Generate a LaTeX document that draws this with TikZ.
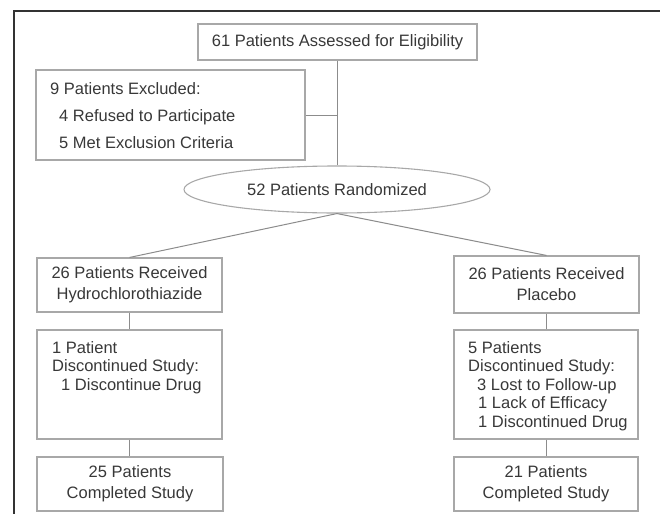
\documentclass[tikz,border=0pt]{standalone}
\usepackage{fontspec}
\setmainfont{Liberation Sans}
\usetikzlibrary{shapes.geometric}
\definecolor{boxline}{HTML}{A8A8A8}
\definecolor{conn}{HTML}{8C8C8C}
\definecolor{txt}{HTML}{383838}
\begin{document}
\begin{tikzpicture}[x=1pt,y=-1pt,
  font=\fontsize{16.5}{21}\selectfont,
  box/.style={draw=boxline, line width=1.1pt, inner sep=0pt, text=txt, align=center},
  lbl/.style={anchor=base west, inner sep=0pt, text=txt},
  wire/.style={draw=conn, line width=1pt},
  frame/.style={draw=black!80, line width=1.2pt}]
\useasboundingbox (0,0) rectangle (660,514);
\coordinate (ftop) at (660,11);
\coordinate (fcorner) at (14,11);
\coordinate (fbot) at (14,514);
\draw[frame] (ftop) -- (fcorner) -- (fbot);

% top box
\node[box, minimum width=279, minimum height=36] (assess) at (337.5,42) {61 Patients Assessed for Eligibility};

% excluded box
\node[box, minimum width=269, minimum height=90] (excl) at (170.5,115) {};
\node[lbl] (ex1) at (50,94) {9 Patients Excluded:};
\node[lbl] (ex2) at (59,121) {4 Refused to Participate};
\node[lbl] (ex3) at (59,148) {5 Met Exclusion Criteria};

% ellipse
\node[box, ellipse, minimum width=306, minimum height=47] (rand) at (337,189.5) {52 Patients Randomized};

% received boxes
\node[box, minimum width=185, minimum height=54] (hctz) at (129.5,285) {26 Patients Received\\Hydrochlorothiazide};
\node[box, minimum width=185, minimum height=57] (plac) at (546.5,284.5) {26 Patients Received\\Placebo};

% discontinued boxes
\node[box, minimum width=185, minimum height=109] (discl) at (129.5,384.5) {};
\node[lbl] (dl1) at (52,353) {1 Patient};
\node[lbl] (dl2) at (52,371.5) {Discontinued Study:};
\node[lbl] (dl3) at (61,390) {1 Discontinue Drug};

\node[box, minimum width=184, minimum height=109] (discr) at (546,384.5) {};
\node[lbl] (dr1) at (468,353) {5 Patients};
\node[lbl] (dr2) at (468,371.5) {Discontinued Study:};
\node[lbl] (dr3) at (477,390) {3 Lost to Follow-up};
\node[lbl] (dr4) at (478,408.5) {1 Lack of Efficacy};
\node[lbl] (dr5) at (478,427) {1 Discontinued Drug};

% completed boxes
\node[box, minimum width=186, minimum height=54] (compl) at (130,484) {25 Patients\\Completed Study};
\node[box, minimum width=184, minimum height=54] (compr) at (546,484) {21 Patients\\Completed Study};

% connectors
\draw[wire] (assess.south -| rand.north) -- (rand.north);
\draw[wire] (excl.east) -- (excl.east -| rand.north);
\draw[wire] (rand.south) -- (hctz.north);
\draw[wire] (rand.south) -- (plac.north);
\draw[wire] (hctz.south) -- (discl.north -| hctz.south);
\draw[wire] (discl.south -| hctz.south) -- (compl.north -| hctz.south);
\draw[wire] (plac.south -| compr.north) -- (discr.north -| compr.north);
\draw[wire] (discr.south -| compr.north) -- (compr.north);
\end{tikzpicture}
\end{document}
